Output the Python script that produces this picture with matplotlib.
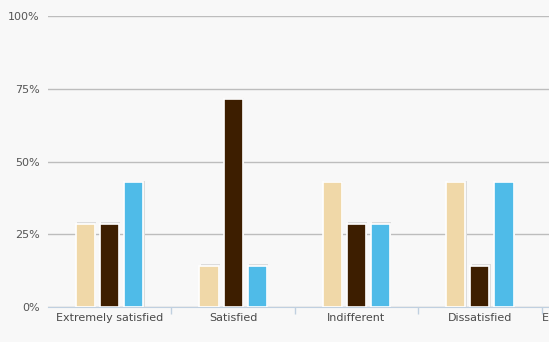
import numpy as np
import matplotlib.pyplot as plt
from matplotlib.ticker import FuncFormatter

# data (percent of votes per answer)
categories = ['Extremely satisfied', 'Satisfied', 'Indifferent', 'Dissatisfied',
              'Extremely dissatisfied']
series_a = [28.6, 14.3, 42.9, 42.9, 14.3]
series_b = [28.6, 71.4, 28.6, 14.3, 28.6]
series_c = [42.9, 14.3, 28.6, 42.9, 14.3]
y_ticks = [0, 25, 50, 75, 100]

colors = ['#f0d8a8', '#3d1e00', '#4fbbe8']
bg = '#f8f8f8'

fig = plt.figure(figsize=(5.49, 3.42), dpi=100, facecolor=bg)
# axes runs off the right edge, like the cropped original
ax = fig.add_axes([48 / 549, 34.7 / 342, 617 / 549, 291.3 / 342])
ax.set_facecolor(bg)

x = np.arange(len(categories))
width = 0.155
step = 0.195
for i, (vals, c) in enumerate(zip([series_a, series_b, series_c], colors)):
    pos = x + (i - 1) * step
    # soft shadow behind each bar
    ax.bar(pos + 0.01, np.array(vals) + 0.6, width, color='#dcdcdc', zorder=2)
    ax.bar(pos, vals, width, color=c, edgecolor='white', linewidth=1.2, zorder=3)

ax.set_xlim(-0.5, len(categories) - 0.5)
ax.set_ylim(0, 100)
ax.set_yticks(y_ticks)
ax.yaxis.set_major_formatter(FuncFormatter(lambda v, p: f'{v:.0f}%'))
ax.yaxis.grid(True, color='#bdbdbd', linewidth=1)
ax.set_axisbelow(True)
for s in ['top', 'right', 'left']:
    ax.spines[s].set_visible(False)
ax.spines['bottom'].set_color('#c0d0e0')
ax.tick_params(axis='y', length=0, pad=6, labelsize=8, labelcolor='#555555')

ax.set_xticks(x)
ax.set_xticklabels(categories)
ax.tick_params(axis='x', which='major', length=0, pad=4, labelsize=8, labelcolor='#4a4a4a')
ax.set_xticks(x[1:] - 0.5, minor=True)
ax.tick_params(axis='x', which='minor', length=5, color='#c0d0e0', width=1)

# y axis title, almost entirely cut off at the left edge
fig.text(-0.026, 0.5, 'Votes', rotation=90, color='#bfe4f5', fontsize=9,
         va='center', ha='left')

fig.savefig('out.png', dpi=100, facecolor=bg)
